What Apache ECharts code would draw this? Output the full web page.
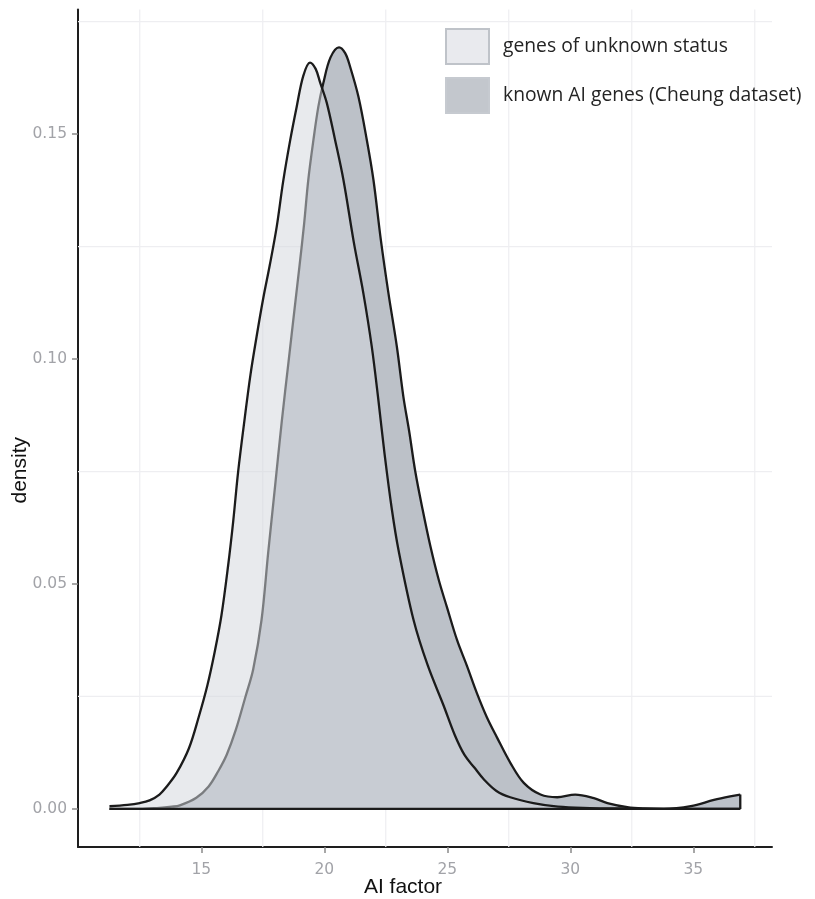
<!DOCTYPE html>
<html>
<head>
<meta charset="utf-8">
<script src="https://cdn.jsdelivr.net/npm/echarts@6/dist/echarts.min.js"></script>
<style>
  html, body { margin: 0; padding: 0; background: #ffffff; }
  #chart { width: 815px; height: 899px; }
</style>
</head>
<body>
<div id="chart"></div>
<script>
// ---- data ----
const seriesNames = ['genes of unknown status', 'known AI genes (Cheung dataset)'];

const unknownX = [11.27, 12.0, 12.5, 12.9, 13.3, 13.6, 14.0, 14.5, 14.9, 15.25, 15.55, 15.82, 16.09, 16.30, 16.50, 16.77, 17.0, 17.25, 17.52, 17.79, 18.07, 18.33, 18.61, 18.88, 19.15, 19.42, 19.65, 19.83, 20.10, 20.44, 20.78, 21.2, 21.59, 21.93, 22.20, 22.45, 22.75, 23.02, 23.63, 24.2, 24.85, 25.3, 25.7, 26.1, 26.5, 27.0, 27.56, 28.5, 29.5, 30.8, 32.0, 34.0, 36.91];
const unknownY = [0.0006, 0.0009, 0.0013, 0.0019, 0.0032, 0.0050, 0.0080, 0.0135, 0.0205, 0.0275, 0.0350, 0.0430, 0.0540, 0.0640, 0.0750, 0.0870, 0.0965, 0.1050, 0.1135, 0.1210, 0.1295, 0.1395, 0.1485, 0.1561, 0.1630, 0.1659, 0.1645, 0.1615, 0.1570, 0.1487, 0.1398, 0.1260, 0.1146, 0.1028, 0.0909, 0.0790, 0.0665, 0.0575, 0.0420, 0.0320, 0.0230, 0.0165, 0.0120, 0.0092, 0.0065, 0.0040, 0.0026, 0.0013, 0.0005, 0.0002, 0.0001, 0.0000, 0.0000];

const knownX = [11.27, 12.5, 13.2, 13.8, 14.13, 14.8, 15.3, 15.7, 16.03, 16.4, 16.8, 17.11, 17.45, 17.72, 18.00, 18.27, 18.55, 18.80, 19.00, 19.18, 19.35, 19.56, 19.76, 19.96, 20.25, 20.60, 20.85, 21.05, 21.39, 21.73, 22.00, 22.30, 22.61, 22.95, 23.22, 23.45, 23.70, 24.0, 24.31, 24.65, 24.99, 25.4, 25.8, 26.2, 26.6, 27.03, 27.57, 28.11, 28.79, 29.47, 30.2, 30.96, 31.51, 32.32, 33.0, 33.8, 34.9, 35.84, 36.5, 36.91];
const knownY = [0.0000, 0.0000, 0.0002, 0.0005, 0.0008, 0.0025, 0.0050, 0.0085, 0.0120, 0.0175, 0.0250, 0.0310, 0.0420, 0.0569, 0.0717, 0.0860, 0.0995, 0.1115, 0.1210, 0.1300, 0.1398, 0.1487, 0.1561, 0.1613, 0.1670, 0.1693, 0.1680, 0.1650, 0.1583, 0.1487, 0.1398, 0.1265, 0.1146, 0.1028, 0.0915, 0.0840, 0.0750, 0.0665, 0.0585, 0.0510, 0.0448, 0.0375, 0.0318, 0.0258, 0.0205, 0.0158, 0.0102, 0.0058, 0.0032, 0.0026, 0.0032, 0.0024, 0.0013, 0.0004, 0.0001, 0.0000, 0.0006, 0.0020, 0.0028, 0.0032];

const xTickValues = [15, 20, 25, 30, 35];
const yTickValues = [0, 0.05, 0.10, 0.15];
const gridX = [12.5, 17.5, 22.5, 27.5, 32.5, 37.5];
const gridY = [0.025, 0.075, 0.125, 0.175];
const xRange = [9.99, 38.2];
const yRange = [-0.00846, 0.1777];

// ---- build ----
const zip = (xs, ys) => xs.map((x, i) => [x, ys[i]]);
const unknownData = zip(unknownX, unknownY);
const knownData = zip(knownX, knownY);
const xStart = Math.min(unknownX[0], knownX[0]);
const xEnd = Math.max(unknownX[unknownX.length - 1], knownX[knownX.length - 1]);

const chart = echarts.init(document.getElementById('chart'), null, { renderer: 'canvas' });

const tickLabelStyle = { color: '#a2a3a8', fontFamily: 'DejaVu Sans', fontSize: 15.5 };
const gridStyle = { color: '#eeeef1', width: 1.2 };

const gridSeries = gridX.map(v => ({
  type: 'line', data: [[v, yRange[0]], [v, yRange[1]]], z: 1, silent: true,
  showSymbol: false, symbol: 'none', lineStyle: gridStyle
})).concat(gridY.map(v => ({
  type: 'line', data: [[xRange[0], v], [xRange[1], v]], z: 1, silent: true,
  showSymbol: false, symbol: 'none', lineStyle: gridStyle
})));

const lineSeries = [
  {
    name: seriesNames[1],
    type: 'line',
    data: knownData,
    z: 2,
    smooth: 0.35,
    showSymbol: false,
    symbol: 'none',
    itemStyle: { color: '#c3c7cd' },
    lineStyle: { color: '#1b1b1b', width: 2.3 },
    areaStyle: { color: '#bcc1c8', opacity: 1 }
  },
  {
    name: seriesNames[0],
    type: 'line',
    data: unknownData,
    z: 3,
    smooth: 0.35,
    showSymbol: false,
    symbol: 'none',
    itemStyle: { color: '#e9eaee' },
    lineStyle: { color: '#1b1b1b', width: 2.3 },
    areaStyle: { color: 'rgb(211,214,221)', opacity: 0.52 }
  },
  {
    type: 'line',
    data: [[xStart, 0], [xEnd, 0]],
    z: 4, silent: true, showSymbol: false, symbol: 'none',
    lineStyle: { color: '#1b1b1b', width: 2.3 }
  },
  {
    type: 'line',
    data: [[knownX[knownX.length - 1], 0], [knownX[knownX.length - 1], knownY[knownY.length - 1]]],
    z: 4, silent: true, showSymbol: false, symbol: 'none',
    lineStyle: { color: '#1b1b1b', width: 2.3 }
  }
];

chart.setOption({
  animation: false,
  backgroundColor: '#ffffff',
  grid: { left: 78, right: 43, top: 9.5, bottom: 52, containLabel: false, outerBoundsMode: 'none' },
  legend: {
    orient: 'vertical',
    left: 440,
    top: 23,
    itemWidth: 43,
    itemHeight: 35,
    itemGap: 12,
    icon: 'rect',
    selectedMode: false,
    textStyle: { fontFamily: 'Open Sans', fontSize: 19.3, color: '#242424', padding: [0, 0, 0, 9] },
    data: [
      { name: seriesNames[0], icon: 'rect', itemStyle: { color: '#e9eaee', borderColor: '#bfc3c9', borderWidth: 2 } },
      { name: seriesNames[1], icon: 'rect', itemStyle: { color: '#c3c7cd', borderColor: '#c6cad0', borderWidth: 2 } }
    ]
  },
  xAxis: {
    type: 'value',
    min: xRange[0],
    max: xRange[1],
    name: 'AI factor',
    nameLocation: 'middle',
    nameGap: 30,
    nameMoveOverlap: false,
    nameTextStyle: { fontFamily: 'Liberation Sans', fontSize: 21, color: '#111', padding: [0, 44, 0, 0] },
    axisLine: { show: true, onZero: false, lineStyle: { color: '#1e1e1e', width: 2 } },
    axisTick: { show: true, customValues: xTickValues, length: 6, lineStyle: { color: '#8a8a8a', width: 1.5 } },
    axisLabel: Object.assign({ customValues: xTickValues, margin: 15 }, tickLabelStyle),
    splitLine: { show: false }
  },
  yAxis: {
    type: 'value',
    min: yRange[0],
    max: yRange[1],
    name: 'density',
    nameLocation: 'middle',
    nameGap: 47,
    nameMoveOverlap: false,
    nameRotate: 90,
    nameTextStyle: { fontFamily: 'Liberation Sans', fontSize: 21, color: '#111', padding: [0, 84, 0, 0] },
    axisLine: { show: true, onZero: false, lineStyle: { color: '#1e1e1e', width: 2 } },
    axisTick: { show: true, customValues: yTickValues, length: 6, lineStyle: { color: '#8a8a8a', width: 1.5 } },
    axisLabel: Object.assign({ customValues: yTickValues, margin: 11, formatter: v => v.toFixed(2) }, tickLabelStyle),
    splitLine: { show: false }
  },
  series: gridSeries.concat(lineSeries)
});
</script>
</body>
</html>
